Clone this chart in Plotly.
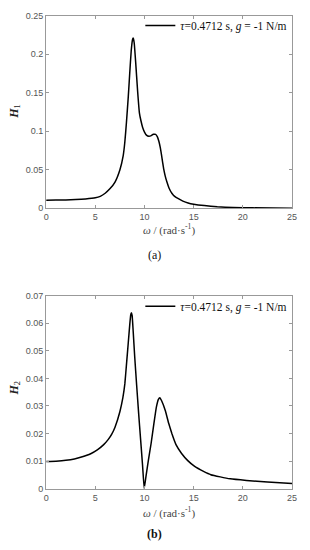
import plotly.graph_objects as go

# ---- data ----
omega1 = [0, 1, 2, 3, 4, 5, 5.5, 6, 6.5, 7, 7.5, 7.83, 8.0, 8.16, 8.35, 8.5, 8.65, 8.78, 8.85,
          8.95, 9.1, 9.3, 9.48, 9.65, 9.81, 10.0, 10.2, 10.45, 10.64, 10.9, 11.13, 11.3, 11.46,
          11.6, 11.72, 11.85, 11.95, 12.1, 12.28, 12.5, 12.78, 13.1, 13.44, 13.9, 14.43, 15,
          16.08, 17.4, 19, 21, 25]
H1 = [0.0105, 0.0106, 0.0108, 0.0112, 0.0120, 0.0135, 0.0155, 0.0195, 0.0255, 0.034, 0.050,
      0.068, 0.086, 0.111, 0.145, 0.176, 0.205, 0.219, 0.221, 0.215, 0.190, 0.152, 0.124,
      0.113, 0.105, 0.099, 0.095, 0.0935, 0.094, 0.096, 0.096, 0.093, 0.087, 0.079, 0.070,
      0.059, 0.051, 0.042, 0.034, 0.026, 0.0195, 0.015, 0.0124, 0.0093, 0.0068, 0.0052,
      0.0034, 0.0019, 0.0010, 0.0005, 0.0001]

omega2 = [0, 1, 2, 2.87, 3.5, 4.53, 5.2, 5.85, 6.3, 6.67, 7.0, 7.5, 7.8, 8.0, 8.16, 8.35, 8.5,
          8.6, 8.66, 8.74, 8.85, 9.0, 9.2, 9.4, 9.6, 9.8, 9.97, 10.15, 10.4, 10.67, 10.95, 11.2,
          11.4, 11.56, 11.75, 12.12, 12.45, 12.78, 13.2, 13.77, 14.4, 15.1, 16, 16.74, 17.7,
          18.72, 20.37, 22.5, 25]
H2 = [0.0099, 0.0100, 0.0103, 0.0108, 0.0114, 0.0127, 0.0141, 0.0160, 0.0178, 0.0198, 0.0223,
      0.0280, 0.0330, 0.0380, 0.0448, 0.0530, 0.0595, 0.0630, 0.0638, 0.0628, 0.0570, 0.0480,
      0.0375, 0.0275, 0.0180, 0.0085, 0.0, 0.0045, 0.0105, 0.0164, 0.0235, 0.0295, 0.0323,
      0.0330, 0.0318, 0.0283, 0.0238, 0.0200, 0.0160, 0.0128, 0.0102, 0.0081, 0.0063,
      0.0051, 0.0043, 0.0036, 0.0030, 0.0024, 0.0019]

x_ticks = [0, 5, 10, 15, 20, 25]
y1_ticks = [0, 0.05, 0.1, 0.15, 0.2, 0.25]
y1_labels = ["0", "0.05", "0.1", "0.15", "0.2", "0.25"]
y2_ticks = [0, 0.01, 0.02, 0.03, 0.04, 0.05, 0.06, 0.07]
y2_labels = ["0", "0.01", "0.02", "0.03", "0.04", "0.05", "0.06", "0.07"]

legend_text = "<i>τ</i>=0.4712 s, <i>g</i> = -1 N/m"

W, H = 310, 550
X0, X1 = 44.3 / W, 296.7 / W
TOP = (1 - 207 / H, 1 - 11 / H)
BOT = (1 - 492.7 / H, 1 - 296 / H)

fig = go.Figure()
fig.add_trace(go.Scatter(x=omega1, y=H1, mode="lines", name=legend_text,
                         line=dict(color="black", width=1.5, shape="spline", smoothing=0.4),
                         xaxis="x", yaxis="y", legend="legend"))
fig.add_trace(go.Scatter(x=omega2, y=H2, mode="lines", name=legend_text,
                         line=dict(color="black", width=1.5, shape="spline", smoothing=0.3),
                         xaxis="x2", yaxis="y2", legend="legend2"))

tickfont = dict(family="Liberation Sans, Arial", size=9, color="#555")
axcommon = dict(showline=True, linecolor="#999", linewidth=1, mirror="ticks",
                ticks="inside", ticklen=3, tickcolor="#999", showgrid=False,
                zeroline=False, tickfont=tickfont)

legfont = dict(family="Liberation Serif, Times New Roman", size=11.5, color="#111")
fig.update_layout(
    width=W, height=H, margin=dict(l=0, r=0, t=0, b=0),
    paper_bgcolor="white", plot_bgcolor="white",
    xaxis=dict(domain=[X0, X1], range=[0, 25], tickvals=x_ticks, anchor="y", **axcommon),
    yaxis=dict(domain=list(TOP), range=[0, 0.25], tickvals=y1_ticks, ticktext=y1_labels,
               anchor="x", **axcommon),
    xaxis2=dict(domain=[X0, X1], range=[0, 25], tickvals=x_ticks, anchor="y2", **axcommon),
    yaxis2=dict(domain=list(BOT), range=[0, 0.07], tickvals=y2_ticks, ticktext=y2_labels,
                anchor="x2", **axcommon),
    legend=dict(x=297 / W, y=1 - 6 / H, xanchor="right", yanchor="top",
                bgcolor="rgba(0,0,0,0)", itemwidth=30, tracegroupgap=0, font=legfont),
    legend2=dict(x=297 / W, y=1 - 292 / H, xanchor="right", yanchor="top",
                 bgcolor="rgba(0,0,0,0)", itemwidth=30, tracegroupgap=0, font=legfont),
    showlegend=True,
)

serif = "Liberation Serif, Times New Roman"
ann = [
    dict(text="<i>ω</i> / (rad·s<sup>-1</sup>)", x=(X0 + X1) / 2, y=1 - 229 / H,
         font=dict(family=serif, size=11, color="#444")),
    dict(text="(a)", x=0.5, y=1 - 255 / H, font=dict(family=serif, size=12, color="#111")),
    dict(text="<i>ω</i> / (rad·s<sup>-1</sup>)", x=(X0 + X1) / 2, y=1 - 517 / H,
         font=dict(family=serif, size=11, color="#444")),
    dict(text="<b>(b)</b>", x=0.5, y=1 - 539 / H, font=dict(family=serif, size=12, color="#111")),
    dict(text="<b><i>H</i></b><sub>1</sub>", x=12 / W, y=1 - 108 / H, textangle=-90,
         font=dict(family=serif, size=12, color="#222")),
    dict(text="<b><i>H</i></b><sub>2</sub>", x=12 / W, y=1 - 390 / H, textangle=-90,
         font=dict(family=serif, size=12, color="#222")),
]
for a in ann:
    fig.add_annotation(xref="paper", yref="paper", showarrow=False, xanchor="center",
                       yanchor="middle", **a)

fig.write_html("out.html", config={"displayModeBar": False},
               post_script="document.body.style.margin='0';document.body.style.overflow='hidden';")
